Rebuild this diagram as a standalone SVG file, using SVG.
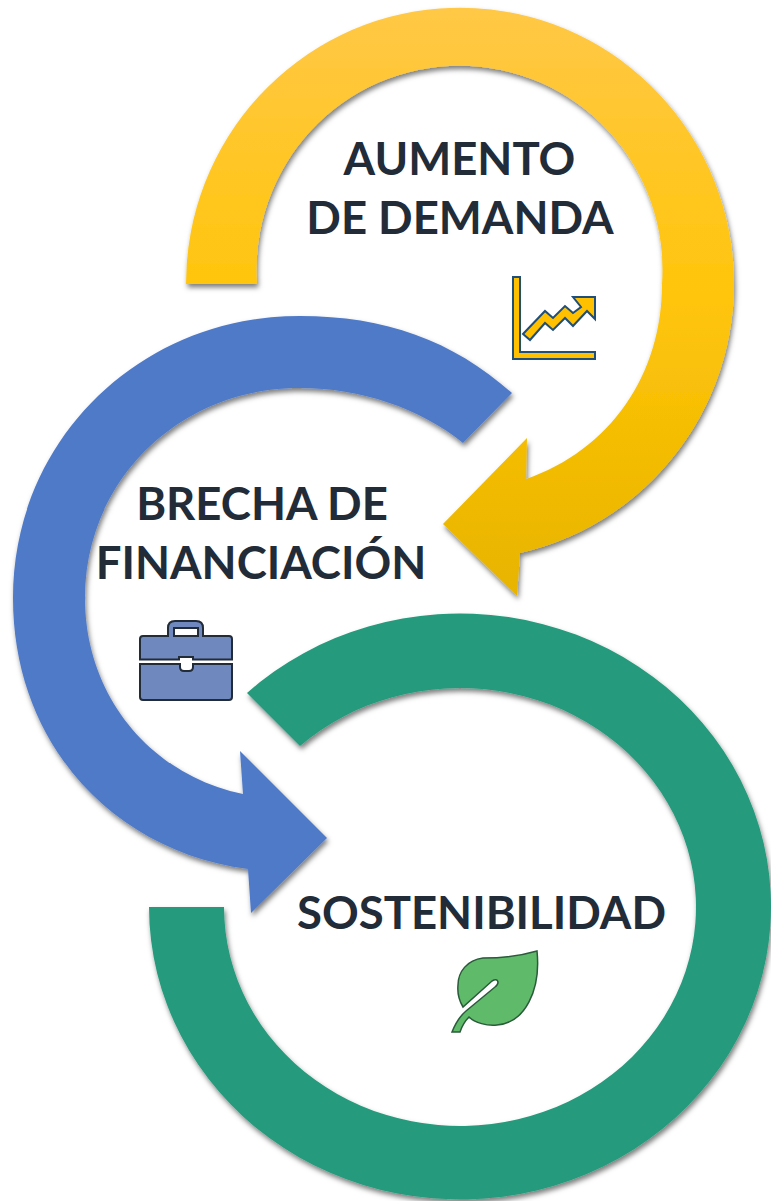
<svg xmlns="http://www.w3.org/2000/svg" width="771" height="1201" viewBox="0 0 771 1201">
<style>
.t{font-family:Lato,"Open Sans",sans-serif;font-weight:700;font-size:45.5px;fill:#222b38;text-anchor:middle}
</style>
<defs>
<linearGradient id="y" gradientUnits="userSpaceOnUse" x1="0" y1="8" x2="0" y2="596">
<stop offset="0" stop-color="#ffc846"/><stop offset="0.5" stop-color="#ffc50a"/><stop offset="1" stop-color="#e8b400"/>
</linearGradient>
<filter id="s" x="-10%" y="-10%" width="120%" height="120%"><feDropShadow dx="1.5" dy="3.5" stdDeviation="2.5" flood-color="#000" flood-opacity="0.5"/></filter>
</defs>
<g id="connectors">
<path id="arc-green" filter="url(#s)" fill="#259a7b" d="M247 693A311 293 0 1 1 149 907H224A236 219 0 1 0 300 746Z"/>
<path id="arc-blue" filter="url(#s)" fill="#507ac8" d="M512 393C452 340 385 316 300 316C140 316 13 440 13 598C13 745 115 852 248 869L251 913L327 838L240 751L243 794C150 775 85 695 85 598C85 480 180 388 300 388C360 388 420 408 463 443Z"/>
<path id="arc-yellow" filter="url(#s)" fill="url(#y)" d="M186 284A274 276 0 1 1 520 553L517 596L443 524L527 438L526 479C610 450 662 375 662 284A203 204 0 1 0 257 284Z"/>
</g>
<g id="node-demanda">
<text class="t" x="459.500" y="175">AUMENTO</text>
<text class="t" x="460" y="234">DE DEMANDA</text>
<path fill="#ffc000" stroke="#1f4e79" stroke-width="2" d="M513 277H520V352H595V359H513Z"/>
<path fill="#ffc000" stroke="#1f4e79" stroke-width="2" d="M523 334L545 311L553 318L565 306L573 313L581 307L573 297H595V319L587 311L573 326L565 318L553 330L545 323L530 340Z"/>
</g>
<g id="node-brecha">
<text class="t" x="262" y="520">BRECHA DE</text>
<text class="t" x="261" y="579">FINANCIACIÓN</text>
<path fill="#6f89bf" stroke="#222b38" stroke-width="2" fill-rule="evenodd" d="M143 636H168V628Q168 621 175 621H196Q203 621 203 628V636H229Q232 636 232 639V659.500H193V657H179V659.500H140V639Q140 636 143 636ZM174 628V636H198V628Z"/>
<path fill="#6f89bf" stroke="#222b38" stroke-width="2" d="M140 664H180V667Q180 671 184 671H189Q193 671 193 667V664H232V697Q232 700 229 700H143Q140 700 140 697Z"/>
</g>
<g id="node-sostenibilidad">
<text class="t" x="481.500" y="929">SOSTENIBILIDAD</text>
<path fill="#5fba6a" stroke="#2a5b3a" stroke-width="1.500" d="M537 951C520 956 505 958 483 958C467 960 458 972 458 985C457 995 460 1002 463 1007L492 981Q497 978 498 982Q498 985 495 987L466 1011C460 1016 456 1022 452 1032L460 1032C462 1026 465 1021 469 1017C475 1023 487 1026 497 1025C525 1023 541 990 537 951Z"/>
</g>
</svg>
